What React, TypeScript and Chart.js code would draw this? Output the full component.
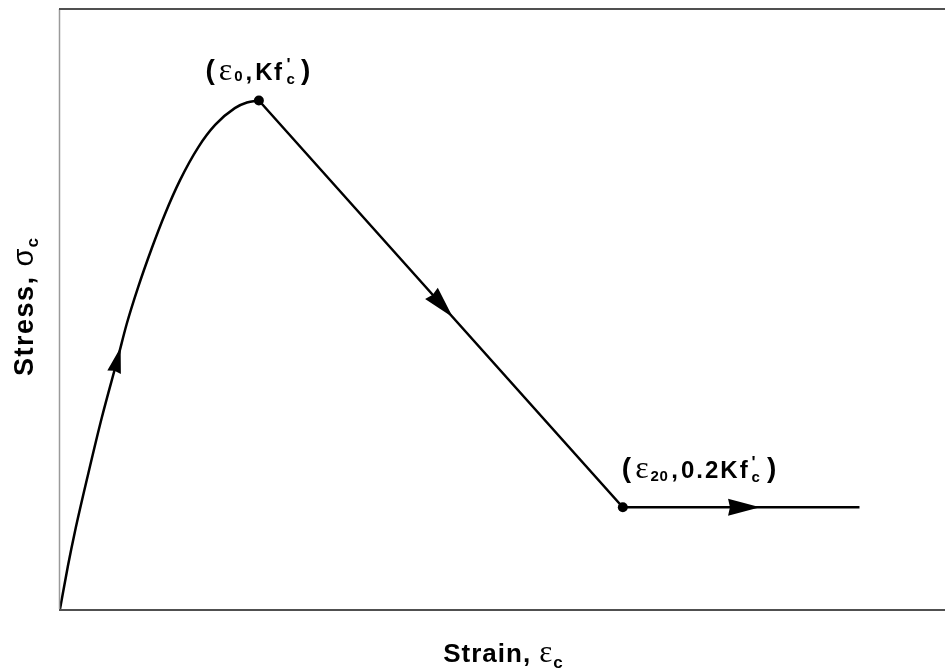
import React, { useEffect, useRef } from "react";
import { Chart, registerables } from "chart.js";

Chart.register(...registerables);

// Ascending branch: strain (in units of ε0) and stress (in units of Kf'c)
const riseStrain = [0, 0.04, 0.075, 0.142, 0.21, 0.293, 0.335, 0.393, 0.461, 0.528, 0.603, 0.695, 0.78, 0.879, 0.94, 1.0];
const riseStress = [0, 0.085, 0.152, 0.266, 0.376, 0.497, 0.56, 0.633, 0.709, 0.777, 0.843, 0.908, 0.952, 0.985, 0.996, 1.0];

// Linear softening branch to ε20, then residual plateau at 0.2Kf'c
const softStrain = [1.0, 2.83, 4.02];
const softStress = [1.0, 0.2, 0.2];

// Strain values where direction arrows sit on each branch
const riseArrows = [0.305];
const softArrows = [1.975, 3.52];

const xMax = 4.45;
const yMax = 1.18;

const SANS = "'Liberation Sans', Arial, sans-serif";
const SERIF = "'Liberation Serif', 'Times New Roman', serif";

type Run = { t: string; font: string; dy?: number; dx?: number; stack?: boolean; ls?: number };

function setRun(ctx: CanvasRenderingContext2D, r: Run) {
  ctx.font = r.font;
  (ctx as any).letterSpacing = `${r.ls || 0}px`;
}

function measureRuns(ctx: CanvasRenderingContext2D, runs: Run[]) {
  let w = 0;
  let lastW = 0;
  for (const r of runs) {
    setRun(ctx, r);
    const rw = ctx.measureText(r.t).width;
    if (r.stack) {
      w = w - lastW + Math.max(lastW, rw);
      lastW = Math.max(lastW, rw);
    } else {
      w += (r.dx || 0) + rw;
      lastW = rw;
    }
  }
  (ctx as any).letterSpacing = "0px";
  return w;
}

function drawRuns(ctx: CanvasRenderingContext2D, runs: Run[], x: number, y: number) {
  let cx = x;
  let startPrev = x;
  let lastW = 0;
  ctx.textBaseline = "alphabetic";
  ctx.textAlign = "left";
  for (const r of runs) {
    setRun(ctx, r);
    const rw = ctx.measureText(r.t).width;
    if (r.stack) {
      ctx.fillText(r.t, startPrev, y + (r.dy || 0));
      const m = Math.max(lastW, rw);
      cx = startPrev + m;
      lastW = m;
    } else {
      cx += r.dx || 0;
      ctx.fillText(r.t, cx, y + (r.dy || 0));
      startPrev = cx;
      lastW = rw;
      cx += rw;
    }
  }
  (ctx as any).letterSpacing = "0px";
}

const peakLabel: Run[] = [
  { t: "(", font: `bold 28px ${SANS}`, dy: -1 },
  { t: "ε", font: `32px ${SERIF}`, dx: 4 },
  { t: "0", font: `bold 15px ${SANS}`, dx: 2, dy: 1 },
  { t: ",", font: `bold 24px ${SANS}`, dx: 3 },
  { t: "Kf", font: `bold 24px ${SANS}`, dx: 3, ls: 1.5 },
  { t: "'", font: `bold 17px ${SANS}`, dx: 3, dy: -10 },
  { t: "c", font: `bold 15px ${SANS}`, dy: 4, stack: true },
  { t: ")", font: `bold 28px ${SANS}`, dx: 6, dy: -1 },
];

const residualLabel: Run[] = [
  { t: "(", font: `bold 28px ${SANS}`, dy: -1 },
  { t: "ε", font: `32px ${SERIF}`, dx: 4 },
  { t: "20", font: `bold 15px ${SANS}`, dx: 2, dy: 3, ls: 0.5 },
  { t: ",", font: `bold 24px ${SANS}`, dx: 3 },
  { t: "0.2Kf", font: `bold 24px ${SANS}`, dx: 3, ls: 2 },
  { t: "'", font: `bold 17px ${SANS}`, dx: 2, dy: -10 },
  { t: "c", font: `bold 15px ${SANS}`, dy: 4, stack: true },
  { t: ")", font: `bold 28px ${SANS}`, dx: 7, dy: -1 },
];

const yTitle: Run[] = [
  { t: "Stress, ", font: `bold 27px ${SANS}`, ls: 1.5 },
  { t: "σ", font: `29px ${SANS}` },
  { t: "c", font: `bold 17px ${SANS}`, dy: 5, dx: 1 },
];

const xTitle: Run[] = [
  { t: "Strain, ", font: `bold 26px ${SANS}`, ls: 1 },
  { t: "ε", font: `31px ${SERIF}` },
  { t: "c", font: `bold 17px ${SANS}`, dy: 6, dx: 1 },
];

function interp(xs: number[], ys: number[], x: number) {
  for (let i = 0; i < xs.length - 1; i++) {
    if (x >= xs[i] && x <= xs[i + 1]) {
      const f = (x - xs[i]) / (xs[i + 1] - xs[i]);
      return { y: ys[i] + f * (ys[i + 1] - ys[i]), i };
    }
  }
  return { y: ys[ys.length - 1], i: xs.length - 2 };
}

const frameAndNotes = {
  id: "frameAndNotes",
  afterDatasetsDraw(chart: any) {
    const { ctx, chartArea, scales } = chart;
    const xs = scales.x;
    const ys = scales.y;
    ctx.save();

    // frame: left, top, bottom
    ctx.lineCap = "butt";
    ctx.strokeStyle = "#9a9a9a";
    ctx.lineWidth = 1.5;
    ctx.beginPath();
    ctx.moveTo(chartArea.left - 0.5, chartArea.top);
    ctx.lineTo(chartArea.left - 0.5, chartArea.bottom);
    ctx.stroke();
    ctx.strokeStyle = "#505050";
    ctx.lineWidth = 2;
    ctx.beginPath();
    ctx.moveTo(chartArea.left - 1, chartArea.top);
    ctx.lineTo(chartArea.right, chartArea.top);
    ctx.moveTo(chartArea.left - 1, chartArea.bottom + 1);
    ctx.lineTo(chartArea.right, chartArea.bottom + 1);
    ctx.stroke();

    // direction arrows
    const arrow = (sx: number[], sy: number[], at: number, len: number, half: number) => {
      const { y, i } = interp(sx, sy, at);
      const tx = xs.getPixelForValue(at);
      const ty = ys.getPixelForValue(y);
      const ax = xs.getPixelForValue(sx[i]);
      const ay = ys.getPixelForValue(sy[i]);
      const bx = xs.getPixelForValue(sx[i + 1]);
      const by = ys.getPixelForValue(sy[i + 1]);
      const d = Math.hypot(bx - ax, by - ay);
      const ux = (bx - ax) / d;
      const uy = (by - ay) / d;
      const baseX = tx - ux * len;
      const baseY = ty - uy * len;
      ctx.fillStyle = "#000";
      ctx.beginPath();
      ctx.moveTo(tx, ty);
      ctx.lineTo(baseX - uy * half, baseY + ux * half);
      ctx.lineTo(baseX + ux * len * 0.06, baseY + uy * len * 0.06);
      ctx.lineTo(baseX + uy * half, baseY - ux * half);
      ctx.closePath();
      ctx.fill();
    };
    riseArrows.forEach((a) => arrow(riseStrain, riseStress, a, 26, 7));
    softArrows.forEach((a) => arrow(softStrain, softStress, a, 32, 8.5));

    // point annotations
    ctx.fillStyle = "#000";
    const px = xs.getPixelForValue(softStrain[0]);
    const py = ys.getPixelForValue(softStress[0]);
    const w1 = measureRuns(ctx, peakLabel);
    drawRuns(ctx, peakLabel, px - 1 - w1 / 2, py - 21);

    const qx = xs.getPixelForValue(softStrain[1]);
    const qy = ys.getPixelForValue(softStress[1]);
    drawRuns(ctx, residualLabel, qx - 1, qy - 29);

    // axis titles
    const wx = measureRuns(ctx, xTitle);
    drawRuns(ctx, xTitle, 503 - wx / 2, 662);

    const wy = measureRuns(ctx, yTitle);
    ctx.translate(33, 307);
    ctx.rotate(-Math.PI / 2);
    drawRuns(ctx, yTitle, -wy / 2, 0);
    ctx.restore();
  },
};

export default function App() {
  const ref = useRef<HTMLCanvasElement | null>(null);

  useEffect(() => {
    if (!ref.current) return;
    const chart = new Chart(ref.current, {
      type: "scatter",
      data: {
        datasets: [
          {
            label: "ascending",
            data: riseStrain.map((x, i) => ({ x, y: riseStress[i] })),
            showLine: true,
            borderColor: "#000",
            borderWidth: 2.5,
            pointRadius: 0,
            cubicInterpolationMode: "monotone",
          },
          {
            label: "softening",
            data: softStrain.map((x, i) => ({ x, y: softStress[i] })),
            showLine: true,
            borderColor: "#000",
            borderWidth: 2.5,
            tension: 0,
            pointRadius: [5, 5, 0],
            pointBackgroundColor: "#000",
            pointBorderColor: "#000",
            pointBorderWidth: 0,
          },
        ],
      },
      options: {
        animation: false,
        responsive: false,
        events: [],
        layout: { autoPadding: false, padding: { left: 60, top: 9, right: 0, bottom: 62 } },
        plugins: {
          legend: { display: false },
          tooltip: { enabled: false },
        },
        scales: {
          x: { type: "linear", min: 0, max: xMax, display: false },
          y: { type: "linear", min: 0, max: yMax, display: false },
        },
      },
      plugins: [frameAndNotes],
    });
    return () => chart.destroy();
  }, []);

  return (
    <div style={{ position: "absolute", left: 0, top: 0, width: 945, height: 671, background: "#fff" }}>
      <canvas ref={ref} width={945} height={671} style={{ display: "block" }} />
    </div>
  );
}
